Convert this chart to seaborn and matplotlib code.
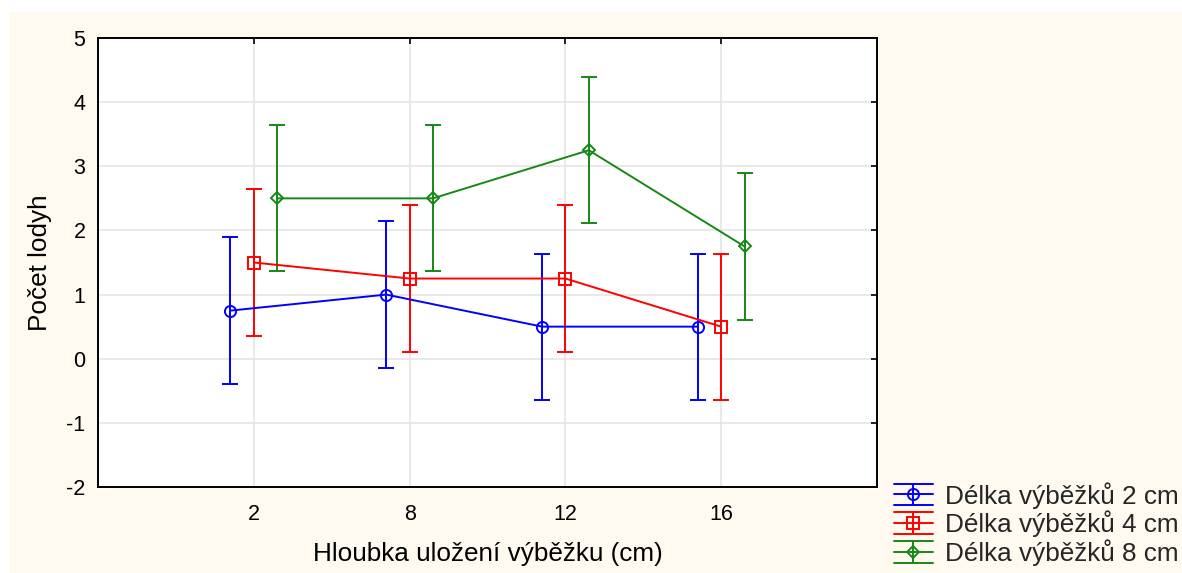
import numpy as np
import pandas as pd
import seaborn as sns
import matplotlib
matplotlib.use("Agg")
import matplotlib.pyplot as plt
from matplotlib.patches import Rectangle
from matplotlib.lines import Line2D
from matplotlib.legend_handler import HandlerBase

# ---- data ----
depths = ["2", "8", "12", "16"]
series_names = ["Délka výběžků 2 cm", "Délka výběžků 4 cm", "Délka výběžků 8 cm"]
means_2cm = [0.75, 1.0, 0.5, 0.5]
means_4cm = [1.5, 1.25, 1.25, 0.5]
means_8cm = [2.5, 2.5, 3.25, 1.75]
ci_2cm = [1.14, 1.14, 1.14, 1.14]
ci_4cm = [1.14, 1.14, 1.14, 1.14]
ci_8cm = [1.14, 1.14, 1.14, 1.14]
yticks = [-2, -1, 0, 1, 2, 3, 4, 5]

colors = ["#0000FF", "#FF0000", "#168816"]
markers = ["o", "s", "D"]
msizes = [8, 8, 6.5]

df = pd.DataFrame({
    "depth": depths * 3,
    "series": [s for s in series_names for _ in depths],
    "value": means_2cm + means_4cm + means_8cm,
})
errs = [ci_2cm, ci_4cm, ci_8cm]

sns.set_theme(style="white")
plt.rcParams["font.family"] = ["Liberation Sans", "DejaVu Sans"]

W, H = 1182, 573
fig = plt.figure(figsize=(W / 100, H / 100), dpi=100)
fig.patch.set_facecolor("white")
fig.add_artist(Rectangle((9 / W, 0), 1, (H - 12) / H, transform=fig.transFigure,
                         facecolor="#FFF9EF", edgecolor="none", zorder=-10))

ax = fig.add_axes([98 / W, (H - 487) / H, (877 - 98) / W, (487 - 38) / H])
ax.set_facecolor("white")

sns.pointplot(data=df, x="depth", y="value", hue="series", order=depths,
              hue_order=series_names, palette=colors, markers=markers,
              linestyles="-", dodge=0.3, errorbar=None, ax=ax,
              legend=False)

# style points lines and add error bars at the seaborn positions
lines = [l for l in ax.lines if len(l.get_xdata()) == len(depths)]
for line, c, m, ms, e in zip(lines, colors, markers, msizes, errs):
    line.set_markerfacecolor("none")
    line.set_markeredgecolor(c)
    line.set_markersize(ms)
    line.set_markeredgewidth(1.4)
    line.set_linewidth(1.4)
    line.set_zorder(3)
    x = np.asarray(line.get_xdata(), dtype=float)
    y = np.asarray(line.get_ydata(), dtype=float)
    ax.errorbar(x, y, yerr=e, fmt="none", ecolor=c, elinewidth=1.4,
                capsize=5.5, capthick=1.4, zorder=2)

ax.set_xlim(-1, 4)
ax.set_ylim(-2, 5)
ax.set_yticks(yticks)
ax.set_yticklabels([str(t) for t in yticks])
ax.grid(True, color="#E3E3E3", linewidth=1.1, zorder=0)
ax.set_axisbelow(True)
for s in ax.spines.values():
    s.set_visible(True)
    s.set_color("black")
    s.set_linewidth(1.4)
ax.tick_params(axis="both", direction="in", length=4, width=1.2, color="black",
               labelsize=15.5, labelcolor="black", top=True, right=True,
               labeltop=False, labelright=False)
ax.tick_params(axis="x", pad=12.5)
ax.tick_params(axis="y", pad=9)
ax.set_xlabel("Hloubka uložení výběžku (cm)", fontsize=18.8, color="black", labelpad=12)
ax.set_ylabel("Počet lodyh", fontsize=18.8, color="black", labelpad=10)


class HandlerEB(HandlerBase):
    def create_artists(self, legend, orig_handle, xdescent, ydescent, width,
                       height, fontsize, trans):
        c = orig_handle.get_color()
        m = orig_handle.get_marker()
        ms = orig_handle.get_markersize()
        cy = height / 2 - ydescent
        x0 = -xdescent
        hh = 7.8
        arts = [
            Line2D([x0, x0 + width], [cy, cy], color=c, lw=1.4),
            Line2D([x0, x0 + width], [cy + hh, cy + hh], color=c, lw=1.4),
            Line2D([x0, x0 + width], [cy - hh, cy - hh], color=c, lw=1.4),
            Line2D([x0 + width / 2] * 2, [cy - hh, cy + hh], color=c, lw=1.4),
            Line2D([x0 + width / 2], [cy], marker=m, markersize=ms,
                   markerfacecolor="none", markeredgecolor=c, markeredgewidth=1.4,
                   linestyle="none"),
        ]
        for a in arts:
            a.set_transform(trans)
        return arts


handles = [Line2D([], [], color=c, marker=m, markersize=ms)
           for c, m, ms in zip(colors, markers, msizes)]
fig.legend(handles, series_names, handler_map={Line2D: HandlerEB()},
           loc="lower left", bbox_to_anchor=(886 / W, -1 / H), frameon=False,
           fontsize=18.8, handlelength=1.5, handletextpad=0.45, labelspacing=0.08,
           borderaxespad=0, borderpad=0.3)

fig.savefig("out.png", dpi=100, facecolor=fig.get_facecolor())
